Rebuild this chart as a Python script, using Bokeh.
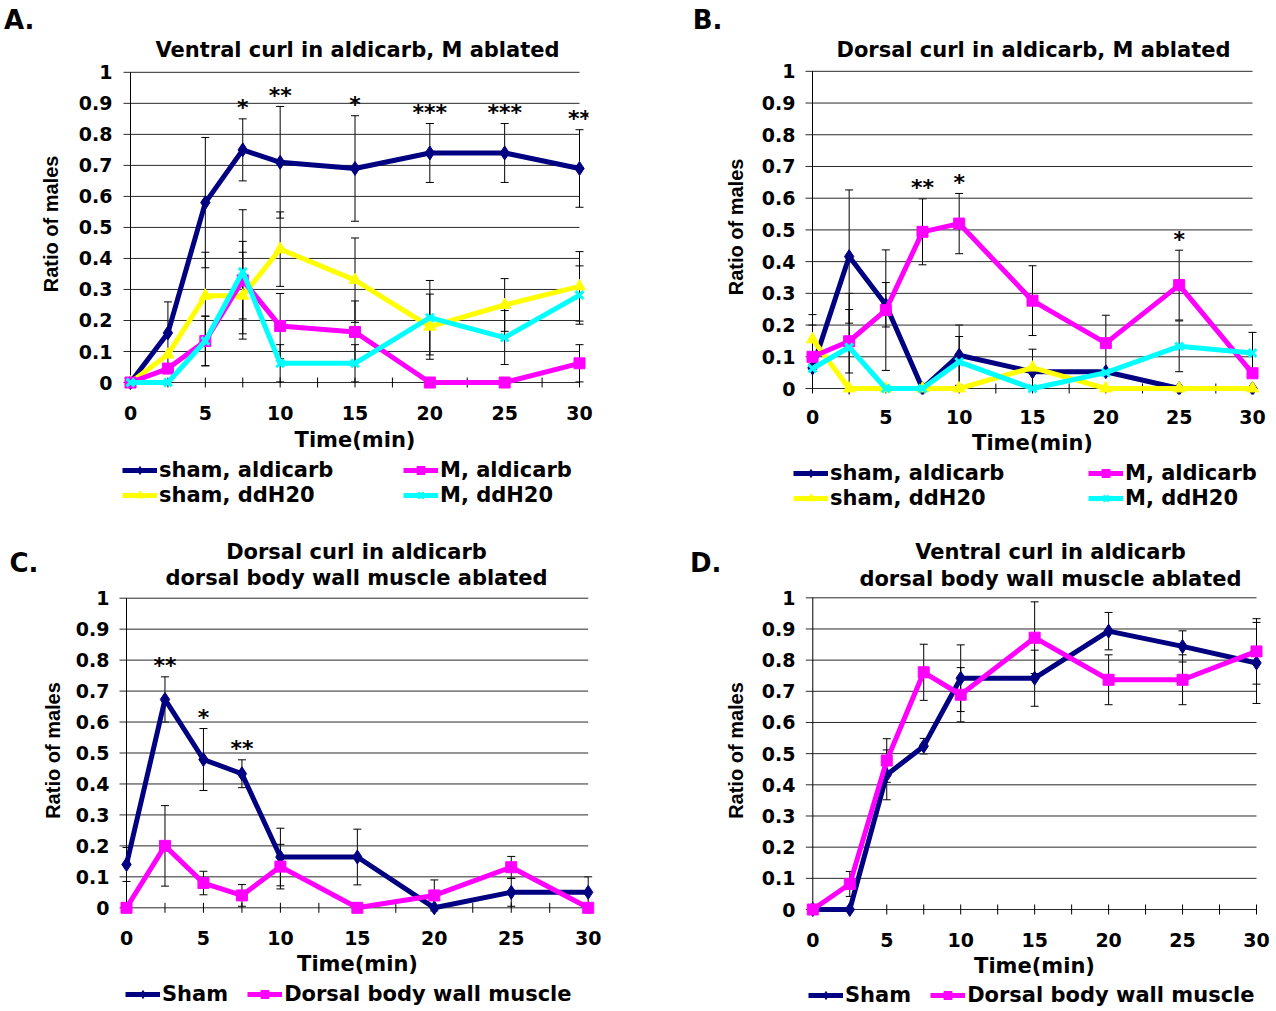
from bokeh.plotting import figure
from bokeh.models import (Range1d, FixedTicker, NumeralTickFormatter, Whisker, TeeHead,
                          ColumnDataSource, Legend, LegendItem, LinearAxis)
from bokeh.layouts import column, row
from bokeh.embed import file_html
from bokeh.resources import INLINE
from bokeh.core.properties import value

# ---------------- data ----------------
times = [0, 2.5, 5, 7.5, 10, 15, 20, 25, 30]
x_tick_labels = ["0", "5", "10", "15", "20", "25", "30"]
x_tick_marks = [0, 2.5, 5, 7.5, 10, 12.5, 15, 17.5, 20, 22.5, 25, 27.5, 30]
y_tick_labels = ["0", "0.1", "0.2", "0.3", "0.4", "0.5", "0.6", "0.7", "0.8", "0.9", "1"]

# Panel A: Ventral curl in aldicarb, M ablated
a_sham_ald = [0, 0.16, 0.58, 0.75, 0.71, 0.69, 0.74, 0.74, 0.69]
a_sham_ald_err = [0, 0.10, 0.21, 0.10, 0.18, 0.17, 0.095, 0.095, 0.125]
a_sham_h2o = [0, 0.09, 0.28, 0.28, 0.43, 0.33, 0.18, 0.25, 0.31]
a_sham_h2o_err = [0, 0, 0.14, 0.14, 0.12, 0.136, 0.105, 0.085, 0.112]
a_m_ald = [0, 0.045, 0.134, 0.33, 0.182, 0.163, 0, 0, 0.062]
a_m_ald_err = [0, 0, 0.08, 0.125, 0.105, 0.10, 0, 0, 0.06]
a_m_h2o = [0, 0, 0.134, 0.357, 0.062, 0.062, 0.209, 0.145, 0.282]
a_m_h2o_err = [0, 0, 0.08, 0.20, 0.06, 0.06, 0.12, 0.087, 0.094]
a_star_x = [7.5, 10, 15, 20, 25, 30]
a_star_text = ["*", "**", "*", "***", "***", "**"]

# Panel B: Dorsal curl in aldicarb, M ablated
b_sham_ald = [0.065, 0.416, 0.264, 0, 0.105, 0.053, 0.053, 0, 0]
b_sham_ald_err = [0, 0.21, 0.07, 0, 0.095, 0, 0, 0, 0]
b_sham_h2o = [0.155, 0, 0, 0, 0, 0.066, 0, 0, 0]
b_sham_h2o_err = [0.078, 0, 0, 0, 0, 0.058, 0, 0, 0]
b_m_ald = [0.10, 0.149, 0.247, 0.494, 0.52, 0.277, 0.143, 0.326, 0.048]
b_m_ald_err = [0.10, 0.10, 0.19, 0.104, 0.095, 0.11, 0.088, 0.11, 0]
b_m_h2o = [0.063, 0.13, 0, 0, 0.084, 0, 0.05, 0.133, 0.112]
b_m_h2o_err = [0, 0.17, 0, 0, 0.08, 0, 0, 0.08, 0.065]
b_star_x = [7.5, 10, 25]
b_star_text = ["**", "*", "*"]

# Panel C: Dorsal curl in aldicarb, dorsal body wall muscle ablated
c_sham = [0.14, 0.673, 0.479, 0.433, 0.164, 0.164, 0, 0.05, 0.05]
c_sham_err = [0.055, 0.073, 0.10, 0.045, 0.093, 0.09, 0, 0.045, 0.05]
c_dbwm = [0, 0.20, 0.08, 0.04, 0.133, 0, 0.04, 0.131, 0]
c_dbwm_err = [0, 0.13, 0.038, 0.035, 0.072, 0, 0.05, 0.035, 0]
c_star_x = [2.5, 5, 7.5]
c_star_text = ["**", "*", "**"]

# Panel D: Ventral curl in aldicarb, dorsal body wall muscle ablated
d_sham = [0, 0, 0.432, 0.524, 0.742, 0.742, 0.893, 0.844, 0.791]
d_sham_err = [0, 0, 0.08, 0.025, 0.107, 0.09, 0.06, 0.05, 0.13]
d_dbwm = [0, 0.082, 0.478, 0.761, 0.689, 0.872, 0.737, 0.737, 0.828]
d_dbwm_err = [0, 0.04, 0.07, 0.09, 0.087, 0.115, 0.08, 0.08, 0.105]

# ---------------- style ----------------
FONT = "DejaVu Sans"
YFONT = "Liberation Sans"
STY = {
    "navy": dict(color="#000080", marker="diamond", size=14),
    "yellow": dict(color="#FFFF00", marker="triangle", size=12),
    "magenta": dict(color="#FF00FF", marker="square", size=11),
    "cyan": dict(color="#00FFFF", marker="x", size=11),
}
GRID = "#2a2a2a"
LINE_W = 5


def plain_axis(ax):
    ax.axis_line_color = None
    ax.major_tick_line_color = None
    ax.minor_tick_line_color = None
    ax.major_tick_in = 0
    ax.major_tick_out = 0
    ax.major_label_text_color = "black"
    ax.major_label_text_font_style = "bold"


def add_marks(p, key, xs, ys):
    st = STY[key]
    lr = p.line(xs, ys, line_color=st["color"], line_width=LINE_W)
    if st["marker"] == "x":
        sr = p.scatter(xs, ys, marker="x", size=st["size"], line_color=st["color"], line_width=3)
    else:
        sr = p.scatter(xs, ys, marker=st["marker"], size=st["size"],
                       fill_color=st["color"], line_color=st["color"])
    return lr, sr


def build(g, letter, title_lines, series, star_x, star_text, star_ref):
    W, ox, top, H = g["W"], g["ox"], g["top"], g["H"]
    x0, x30, y0, y1 = g["x0"], g["x30"], g["y0"], g["y1"]
    fl, fr, fb = g["fl"], g["fr"], g["fb"]
    xpp = 30.0 / (x30 - x0)
    ypp = 1.0 / (y0 - y1)
    p = figure(width=W, height=H, title=None,
               x_range=Range1d((fl - x0) * xpp, (fr - x0) * xpp),
               y_range=Range1d((y0 - fb) * ypp, (y0 - top) * ypp),
               output_backend="svg", toolbar_location=None,
               min_border_left=fl - ox, min_border_right=ox + W - fr,
               min_border_top=0, min_border_bottom=top + H - fb)
    p.extra_x_ranges = {"pg": Range1d(fl, fr)}
    p.extra_y_ranges = {"pg": Range1d(fb, top)}
    p.outline_line_color = None
    p.grid.visible = False

    def dy(py):
        return (y0 - py) * ypp

    xa, ya = p.xaxis[0], p.yaxis[0]
    for ax in (xa, ya):
        plain_axis(ax)
        ax.major_label_text_font = FONT
        ax.major_label_text_font_size = "19px"
    xa.ticker = FixedTicker(ticks=[float(t) for t in x_tick_labels])
    xa.major_label_standoff = g["xstand"]
    xa.axis_label = "Time(min)"
    xa.axis_label_text_font = FONT
    xa.axis_label_text_font_size = "21px"
    xa.axis_label_text_font_style = "bold"
    xa.axis_label_text_color = "black"
    xa.axis_label_standoff = g["xlabstand"]
    ya.ticker = FixedTicker(ticks=[float(t) for t in y_tick_labels])
    ya.formatter = NumeralTickFormatter(format="0.[0]")
    ya.major_label_standoff = g["ystand"]

    # y-axis title, placed against the chart body (page-pixel range)
    lab = LinearAxis(y_range_name="pg", ticker=FixedTicker(ticks=[g["ylab_y"]]),
                     major_label_overrides={g["ylab_y"]: "Ratio of males"},
                     major_label_orientation="vertical", major_label_standoff=g["ylab_stand"],
                     major_label_text_font=YFONT, major_label_text_font_size="20px")
    plain_axis(lab)
    p.add_layout(lab, "left")
    # panel letter
    let = LinearAxis(y_range_name="pg", ticker=FixedTicker(ticks=[g["letter_y"]]),
                     major_label_overrides={g["letter_y"]: letter},
                     major_label_standoff=g["letter_stand"],
                     major_label_text_font=FONT, major_label_text_font_size="26px")
    plain_axis(let)
    p.add_layout(let, "left")

    # title
    p.text(x=[t[0] for t in g["title"]], y=[t[1] for t in g["title"]], text=title_lines,
           x_range_name="pg", y_range_name="pg", text_align="center", text_baseline="middle",
           text_font=value(FONT), text_font_style="bold", text_font_size="21px",
           text_color="black")

    # gridlines (with the outside tick marks), axis lines, bottom tick marks
    yt = [float(t) for t in y_tick_labels]
    p.segment(x0=[-7 * xpp] * len(yt), y0=yt, x1=[30] * len(yt), y1=yt,
              line_color=GRID, line_width=1)
    p.segment(x0=[0], y0=[0], x1=[0], y1=[1], line_color="black", line_width=1)
    p.segment(x0=x_tick_marks, y0=[dy(y0 + 5)] * len(x_tick_marks),
              x1=x_tick_marks, y1=[dy(y0 - 5)] * len(x_tick_marks),
              line_color="black", line_width=1)

    for label, vals, errs, key in series:
        add_marks(p, key, times, vals)
        bx = [t for t, e in zip(times, errs) if e > 0]
        lo = [v - e for v, e in zip(vals, errs) if e > 0]
        hi = [v + e for v, e in zip(vals, errs) if e > 0]
        if bx:
            src = ColumnDataSource(dict(x=bx, lo=lo, hi=hi))
            p.add_layout(Whisker(source=src, base="x", lower="lo", upper="hi",
                                 line_color="black", line_width=1,
                                 upper_head=TeeHead(size=8, line_color="black", line_width=1),
                                 lower_head=TeeHead(size=8, line_color="black", line_width=1)))

    if star_x:
        _, rv, re, _ = series[star_ref]
        sy = [rv[times.index(x)] + re[times.index(x)] + 11 * ypp for x in star_x]
        p.text(x=star_x, y=sy, text=star_text, text_align="center", text_baseline="alphabetic",
               text_font=value(FONT), text_font_style="bold", text_font_size="22px",
               text_color="black")
    return p


def footer(top, h, legends):
    """Full-width strip (page-pixel coordinates) holding the legends."""
    f = figure(width=1276, height=h, x_range=Range1d(0, 1276), y_range=Range1d(top + h, top),
               x_axis_type=None, y_axis_type=None, title=None, min_border=0,
               output_backend="svg", toolbar_location=None)
    f.outline_line_color = None
    for lg in legends:
        items = []
        for label, key in lg["items"]:
            # legend swatch renderers: one point kept off the visible strip
            lr, sr = add_marks(f, key, [-1000], [-1000])
            items.append(LegendItem(label=label, renderers=[lr, sr]))
        pitch = 25
        bottom = lg["row1"] - pitch / 2 + lg["nrows"] * pitch
        L = Legend(items=items, location=(lg["gx"], top + h - bottom),
                   orientation=lg["orient"], padding=0, margin=0, spacing=lg["spacing"],
                   border_line_color=None, background_fill_alpha=0,
                   glyph_width=35, glyph_height=20, label_standoff=2, label_height=pitch,
                   label_text_font=FONT, label_text_font_style="bold",
                   label_text_font_size="21px", label_text_color="black")
        if lg.get("ncols"):
            L.ncols = lg["ncols"]
        if lg.get("label_width"):
            L.label_width = lg["label_width"]
        f.add_layout(L)
    return f


gA = dict(W=638, ox=0, top=0, H=457, fl=121, fr=588, fb=395,
          x0=130, x30=579, y0=383, y1=72, xstand=11, xlabstand=5, ystand=9,
          ylab_y=224, ylab_stand=13, letter_y=20, letter_stand=3, title=[(357, 50)])
gB = dict(W=638, ox=638, top=0, H=457, fl=803, fr=1261, fb=395,
          x0=812, x30=1252, y0=389, y1=71, xstand=15, xlabstand=4, ystand=8,
          ylab_y=227, ylab_stand=11, letter_y=20, letter_stand=0, title=[(1033, 50)])
gC = dict(W=638, ox=0, top=512, H=469, fl=117, fr=597, fb=917,
          x0=126, x30=587.7, y0=907.3, y1=597.7, xstand=13, xlabstand=4, ystand=8,
          ylab_y=750, ylab_stand=9, letter_y=562, letter_stand=0,
          title=[(356, 551), (356, 577)])
gD = dict(W=638, ox=638, top=512, H=469, fl=803, fr=1265, fb=917,
          x0=812.3, x30=1256, y0=909, y1=597.3, xstand=15, xlabstand=4, ystand=8,
          ylab_y=750, ylab_stand=12, letter_y=562, letter_stand=0,
          title=[(1050, 551), (1050, 578)])

four = ["sham, aldicarb", "sham, ddH20", "M, aldicarb", "M, ddH20"]
four_keys = ["navy", "yellow", "magenta", "cyan"]
two = ["Sham", "Dorsal body wall muscle"]
two_keys = ["navy", "magenta"]

pA = build(gA, "A.", ["Ventral curl in aldicarb, M ablated"],
           list(zip(four, [a_sham_ald, a_sham_h2o, a_m_ald, a_m_h2o],
                    [a_sham_ald_err, a_sham_h2o_err, a_m_ald_err, a_m_h2o_err], four_keys)),
           a_star_x, a_star_text, 0)
pB = build(gB, "B.", ["Dorsal curl in aldicarb, M ablated"],
           list(zip(four, [b_sham_ald, b_sham_h2o, b_m_ald, b_m_h2o],
                    [b_sham_ald_err, b_sham_h2o_err, b_m_ald_err, b_m_h2o_err], four_keys)),
           b_star_x, b_star_text, 2)
pC = build(gC, "C.", ["Dorsal curl in aldicarb", "dorsal body wall muscle ablated"],
           list(zip(two, [c_sham, c_dbwm], [c_sham_err, c_dbwm_err], two_keys)),
           c_star_x, c_star_text, 0)
pD = build(gD, "D.", ["Ventral curl in aldicarb", "dorsal body wall muscle ablated"],
           list(zip(two, [d_sham, d_dbwm], [d_sham_err, d_dbwm_err], two_keys)),
           [], [], 0)

fTop = footer(457, 55, [
    dict(items=list(zip(four, four_keys)), gx=122, row1=470, nrows=2, orient="vertical",
         ncols=2, spacing=0, label_width=244),
    dict(items=list(zip(four, four_keys)), gx=793, row1=473, nrows=2, orient="vertical",
         ncols=2, spacing=0, label_width=258),
])
fBot = footer(981, 30, [
    dict(items=list(zip(two, two_keys)), gx=125, row1=994, nrows=1, orient="horizontal",
         spacing=19),
    dict(items=list(zip(two, two_keys)), gx=808, row1=995, nrows=1, orient="horizontal",
         spacing=19),
])

layout = column(row(pA, pB), fTop, row(pC, pD), fBot)
open("out.html", "w").write(file_html(layout, INLINE))
